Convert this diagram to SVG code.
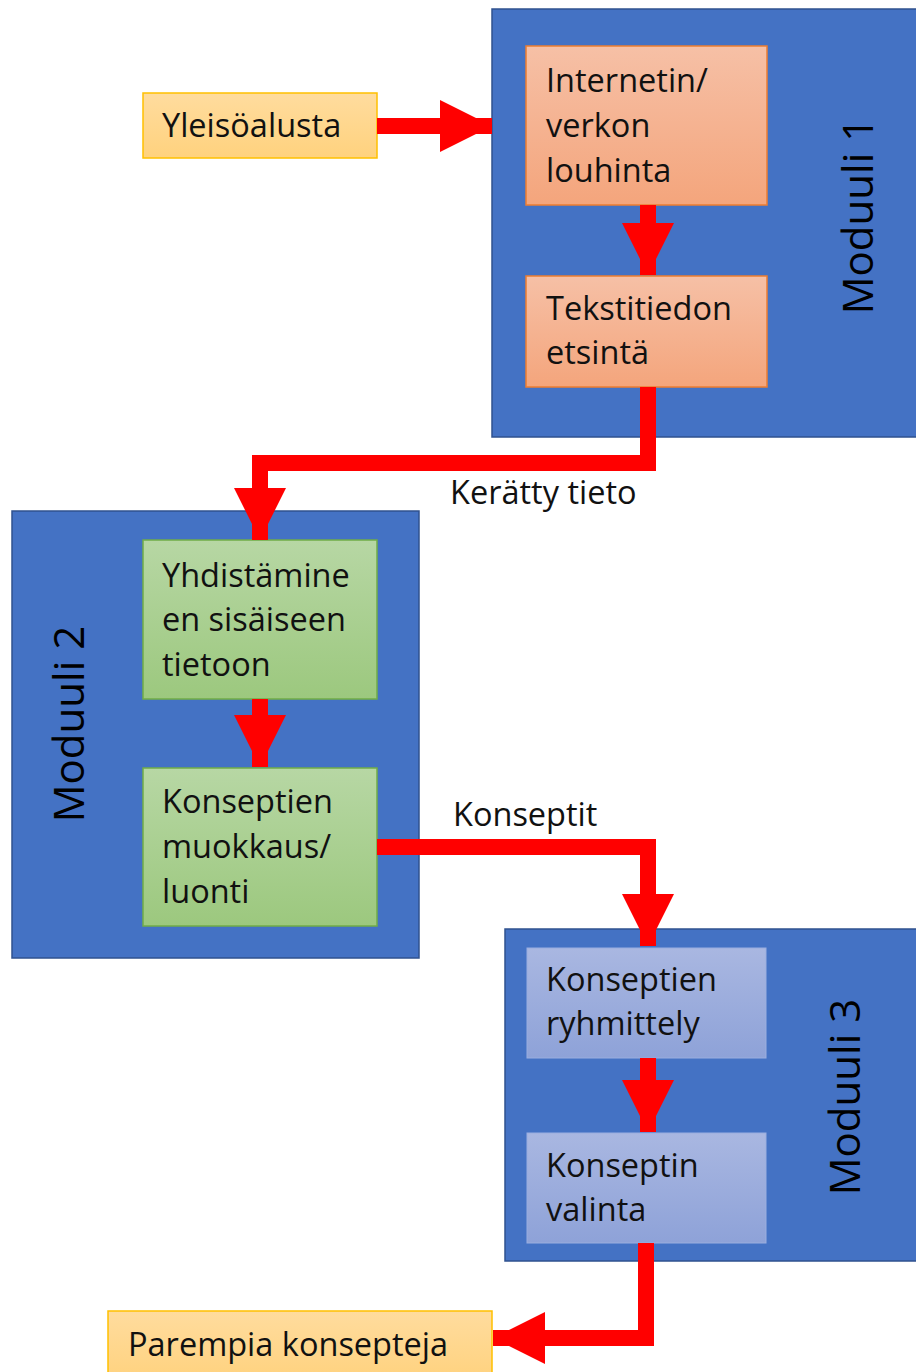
<svg xmlns="http://www.w3.org/2000/svg" width="916" height="1372" viewBox="0 0 916 1372">
<style>
.mod{fill:#4472C4;stroke:#2F528F;stroke-width:1.5}
.t{font-family:"Open Sans","DejaVu Sans",sans-serif;font-size:32.5px;fill:#111}
.mt{font-family:"Open Sans","DejaVu Sans",sans-serif;font-size:42px;fill:#000;text-anchor:middle}
.c{fill:none;stroke:#FF0000;stroke-width:16;stroke-linejoin:miter;marker-end:url(#ah)}
</style>
<defs>
<linearGradient id="gy" x1="0" y1="0" x2="0" y2="1"><stop offset="0" stop-color="#FFDC9E"/><stop offset="1" stop-color="#FFD27E"/></linearGradient>
<linearGradient id="go" x1="0" y1="0" x2="0" y2="1"><stop offset="0" stop-color="#F6C0A6"/><stop offset="1" stop-color="#F4A57C"/></linearGradient>
<linearGradient id="gg" x1="0" y1="0" x2="0" y2="1"><stop offset="0" stop-color="#B7D7A4"/><stop offset="1" stop-color="#9CC87E"/></linearGradient>
<linearGradient id="gb" x1="0" y1="0" x2="0" y2="1"><stop offset="0" stop-color="#A9B7E1"/><stop offset="1" stop-color="#8EA2D8"/></linearGradient>
<marker id="ah" markerUnits="userSpaceOnUse" markerWidth="52" markerHeight="52" refX="52" refY="26" orient="auto"><path d="M0,0 L52,26 L0,52 z" fill="#FF0000"/></marker>
</defs>

<g id="moduuli1">
<rect class="mod" x="492" y="9" width="430" height="428"/>
<text class="mt" transform="translate(873,216) rotate(-90)">Moduuli 1</text>
</g>
<g id="moduuli2">
<rect class="mod" x="12" y="511" width="407" height="447"/>
<text class="mt" transform="translate(84,724) rotate(-90)">Moduuli 2</text>
</g>
<g id="moduuli3">
<rect class="mod" x="505" y="929" width="417" height="332"/>
<text class="mt" transform="translate(860,1097) rotate(-90)">Moduuli 3</text>
</g>

<g id="yleisoalusta">
<rect x="143" y="93" width="234" height="65" fill="url(#gy)" stroke="#FFC000" stroke-width="1.5"/>
<text class="t" x="162" y="137">Yleisöalusta</text>
</g>
<g id="internetin">
<rect x="526" y="46" width="241" height="159" fill="url(#go)" stroke="#ED7D31" stroke-width="1.5"/>
<text class="t" x="546" y="92">Internetin/</text>
<text class="t" x="546" y="137">verkon</text>
<text class="t" x="546" y="182">louhinta</text>
</g>
<g id="tekstitiedon">
<rect x="526" y="276" width="241" height="111" fill="url(#go)" stroke="#ED7D31" stroke-width="1.5"/>
<text class="t" x="546" y="320">Tekstitiedon</text>
<text class="t" x="546" y="364">etsintä</text>
</g>
<g id="yhdistamine">
<rect x="143" y="540" width="234" height="159" fill="url(#gg)" stroke="#70AD47" stroke-width="1.5"/>
<text class="t" x="162" y="587">Yhdistämine</text>
<text class="t" x="162" y="631">en sisäiseen</text>
<text class="t" x="162" y="676">tietoon</text>
</g>
<g id="konseptien-muokkaus">
<rect x="143" y="768" width="234" height="158" fill="url(#gg)" stroke="#70AD47" stroke-width="1.5"/>
<text class="t" x="162" y="813">Konseptien</text>
<text class="t" x="162" y="858">muokkaus/</text>
<text class="t" x="162" y="903">luonti</text>
</g>
<g id="konseptien-ryhmittely">
<rect x="527" y="948" width="239" height="110" fill="url(#gb)" stroke="#9AAEDF" stroke-width="1"/>
<text class="t" x="546" y="991">Konseptien</text>
<text class="t" x="546" y="1035">ryhmittely</text>
</g>
<g id="konseptin-valinta">
<rect x="527" y="1133" width="239" height="110" fill="url(#gb)" stroke="#9AAEDF" stroke-width="1"/>
<text class="t" x="546" y="1177">Konseptin</text>
<text class="t" x="546" y="1221">valinta</text>
</g>
<g id="parempia">
<rect x="108" y="1311" width="384" height="70" fill="url(#gy)" stroke="#FFC000" stroke-width="1.5"/>
<text class="t" x="128" y="1356">Parempia konsepteja</text>
</g>

<g id="connectors">
<path class="c" d="M377,126 H492"/>
<path class="c" d="M648,205 V275"/>
<path class="c" d="M648,387 V463 H260 V540"/>
<path class="c" d="M260,699 V767"/>
<path class="c" d="M377,847 H648 V946"/>
<path class="c" d="M648,1058 V1132"/>
<path class="c" d="M646,1243 V1338 H493"/>
<text class="t" x="450" y="504">Kerätty tieto</text>
<text class="t" x="453" y="826">Konseptit</text>
</g>
</svg>
